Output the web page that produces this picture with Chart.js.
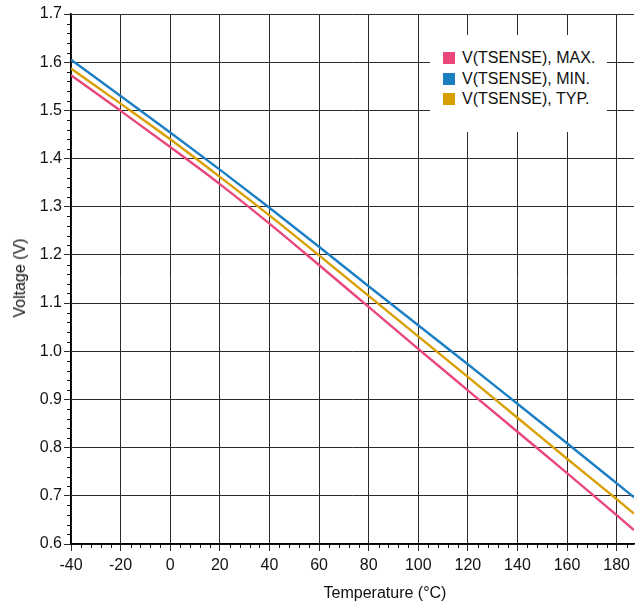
<!DOCTYPE html>
<html>
<head>
<meta charset="utf-8">
<script src="https://cdn.jsdelivr.net/npm/chart.js@4"></script>
<style>
  body { margin: 0; background: #fff; }
  #wrap { position: relative; width: 635px; height: 606px; font-family: "Liberation Sans", Arial, sans-serif; }
  #legend { position: absolute; left: 430px; top: 35px; width: 177px; height: 97px; background: #fff; font-size: 16px; color: #111; box-sizing: border-box; padding-top: 13px; }
  .item { height: 20.5px; line-height: 20.5px; white-space: nowrap; }
  .sw { display: inline-block; width: 12px; height: 12px; margin-left: 13px; margin-right: 7px; vertical-align: -1px; }
  .ytitle { position: absolute; left: 20px; top: 278px; transform: translate(-50%, -50%) rotate(-90deg); font-size: 16px; white-space: nowrap; color: #111; }
  .xtitle { position: absolute; left: 385px; top: 593px; transform: translate(-50%, -50%); font-size: 16px; white-space: nowrap; color: #111; }
</style>
</head>
<body>
<div id="wrap">
  <canvas id="chart" width="635" height="606"></canvas>
  <div id="legend"></div>
  <div class="ytitle">Voltage (V)</div>
  <div class="xtitle">Temperature (°C)</div>
</div>
<script>
// temperature points (°C) and voltages
const temps = [-40, -20, 0, 20, 40, 60, 80, 100, 120, 140, 160, 180, 187];
const vMax = [1.573, 1.499, 1.424, 1.347, 1.265, 1.179, 1.092, 1.005, 0.919, 0.833, 0.747, 0.660, 0.629];
const vMin = [1.605, 1.530, 1.454, 1.377, 1.298, 1.217, 1.135, 1.054, 0.973, 0.891, 0.809, 0.726, 0.697];
const vTyp = [1.587, 1.514, 1.440, 1.362, 1.282, 1.199, 1.115, 1.031, 0.947, 0.862, 0.777, 0.693, 0.663];

const seriesNames = ["V(TSENSE), MAX.", "V(TSENSE), MIN.", "V(TSENSE), TYP."];
const seriesColors = ["#e9467a", "#1c7fc4", "#d99e00"];

const xMin = -40, xMax = 187, xStep = 20, xMinor = 4;
const yMin = 0.6, yMax = 1.7, yStep = 0.1, yMinor = 0.02;

function pts(vals) {
  return temps.map((t, i) => ({ x: t, y: vals[i] }));
}

// small outward minor tick marks on both axes
const minorTicks = {
  id: 'minorTicks',
  afterDraw(chart) {
    const { ctx, scales: { x, y } } = chart;
    ctx.save();
    ctx.strokeStyle = '#111';
    ctx.lineWidth = 1;
    ctx.beginPath();
    const nx = Math.round((xMax - xMin) / xMinor);
    for (let i = 1; i <= nx; i++) {
      const v = xMin + i * xMinor;
      if (Math.abs(v % xStep) < 1e-6) continue;
      const px = Math.round(x.getPixelForValue(v)) + 0.5;
      ctx.moveTo(px, y.bottom);
      ctx.lineTo(px, y.bottom + 4);
    }
    const ny = Math.round((yMax - yMin) / yMinor);
    for (let i = 1; i < ny; i++) {
      if (i % 5 === 0) continue;
      const py = Math.round(y.getPixelForValue(yMin + i * yMinor)) + 0.5;
      ctx.moveTo(x.left, py);
      ctx.lineTo(x.left - 4, py);
    }
    ctx.stroke();
    ctx.restore();
  }
};

const ctx = document.getElementById("chart").getContext("2d");
new Chart(ctx, {
  type: 'line',
  data: {
    datasets: [
      { label: seriesNames[0], data: pts(vMax), borderColor: seriesColors[0] },
      { label: seriesNames[1], data: pts(vMin), borderColor: seriesColors[1] },
      { label: seriesNames[2], data: pts(vTyp), borderColor: seriesColors[2] }
    ]
  },
  options: {
    responsive: false,
    animation: false,
    layout: { padding: { top: 14, right: 0, left: 0, bottom: 0 } },
    elements: {
      point: { radius: 0 },
      line: { borderWidth: 2.4, cubicInterpolationMode: 'monotone', fill: false }
    },
    plugins: { legend: { display: false }, tooltip: { enabled: false } },
    scales: {
      x: {
        type: 'linear',
        min: xMin,
        max: xMax,
        afterFit(scale) { scale.height = 62; },
        border: { color: '#000', width: 1.5 },
        grid: { color: '#2a2a2a', lineWidth: 1, tickLength: 7, tickColor: '#2a2a2a' },
        ticks: {
          stepSize: xStep,
          includeBounds: false,
          maxRotation: 0,
          padding: 5,
          color: '#111',
          font: { family: '"Liberation Sans", Arial, sans-serif', size: 16 }
        }
      },
      y: {
        type: 'linear',
        min: yMin,
        max: yMax,
        afterFit(scale) { scale.width = 71; },
        border: { color: '#000', width: 1.5 },
        grid: { color: '#2a2a2a', lineWidth: 1, tickLength: 7, tickColor: '#2a2a2a' },
        ticks: {
          stepSize: yStep,
          padding: 2,
          color: '#111',
          font: { family: '"Liberation Sans", Arial, sans-serif', size: 16 },
          callback: v => Number(v).toFixed(1)
        }
      }
    }
  },
  plugins: [minorTicks]
});

const legend = document.getElementById("legend");
seriesNames.forEach((name, i) => {
  const row = document.createElement("div");
  row.className = "item";
  row.innerHTML = '<span class="sw" style="background:' + seriesColors[i] + '"></span>' + name;
  legend.appendChild(row);
});
</script>
</body>
</html>
